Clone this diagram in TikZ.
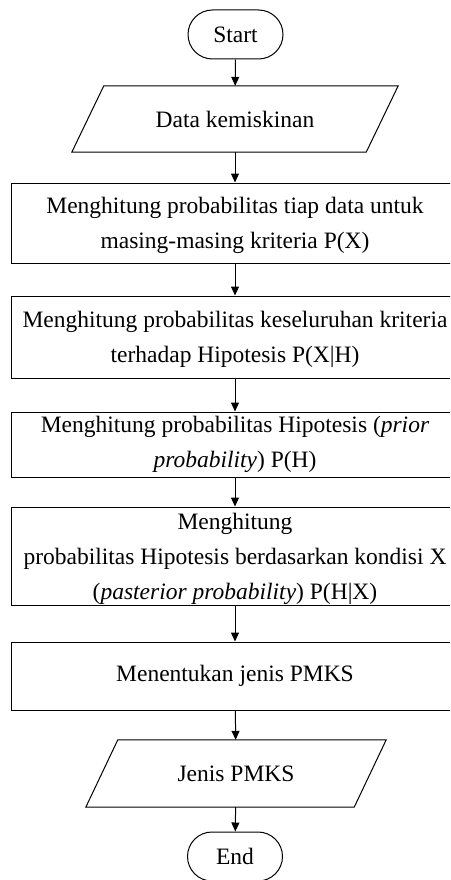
\documentclass[tikz,border=0pt]{standalone}
\usepackage{fontspec}
\setmainfont{Liberation Serif}
\usetikzlibrary{arrows.meta,shapes.misc}
\begin{document}
\begin{tikzpicture}[x=1pt,y=-1pt,
  every node/.style={font=\fontsize{23.5}{35}\selectfont},
  term/.style={draw, line width=1pt, rounded rectangle, minimum width=95pt, minimum height=49pt, inner sep=0pt},
  proc/.style={draw, line width=1pt, rectangle, minimum width=448pt, inner sep=0pt},
  txt/.style={inner sep=0pt, align=center},
  io/.style={inner sep=0pt, align=center},
  flow/.style={-{Triangle[length=9pt,width=8pt]}, line width=1pt},
  ioline/.style={line width=1pt, line join=miter}
]
\clip (0,0) rectangle (450,880);
\fill[white] (0,0) rectangle (450,880);

\node[term] (start) at (235.5,34.5) {Start};

\node[io, minimum width=294pt, minimum height=66pt] (data) at (235,119) {Data kemiskinan};
\draw[ioline] ([xshift=-16pt]data.south west) -- ([xshift=16pt]data.north west) -- ([xshift=16pt]data.north east) -- ([xshift=-16pt]data.south east) -- cycle;

\node[proc, minimum height=80pt] (p1) at (235,223) {};
\node[txt] (p1t) at (235,225) {Menghitung probabilitas tiap data untuk\\masing-masing kriteria P(X)};
\node[proc, minimum height=82pt] (p2) at (235,337) {};
\node[txt] (p2t) at (235,339) {Menghitung probabilitas keseluruhan kriteria\\terhadap Hipotesis P(X|H)};
\node[proc, minimum height=65pt] (p3) at (235,444.5) {};
\node[txt] (p3t) at (235,444.5) {Menghitung probabilitas Hipotesis (\textit{prior}\\\textit{probability}) P(H)};
\node[proc, minimum height=98pt] (p4) at (235,556) {};
\node[txt] (p4t) at (235,559) {Menghitung\\probabilitas Hipotesis berdasarkan kondisi X\\(\textit{pasterior probability}) P(H|X)};
\node[proc, minimum height=68pt] (p5) at (235,676) {};
\node[txt] (p5t) at (235,676) {Menentukan jenis PMKS};

\node[io, minimum width=268pt, minimum height=67pt] (out) at (236,773.5) {Jenis PMKS};
\draw[ioline] ([xshift=-16pt]out.south west) -- ([xshift=16pt]out.north west) -- ([xshift=16pt]out.north east) -- ([xshift=-16pt]out.south east) -- cycle;

\node[term] (end) at (235,856.5) {End};

\draw[flow] (start) -- (data);
\draw[flow] (data) -- (p1);
\draw[flow] (p1) -- (p2);
\draw[flow] (p2) -- (p3);
\draw[flow] (p3) -- (p4);
\draw[flow] (p4) -- (p5);
\draw[flow] (p5) -- (out);
\draw[flow] (out) -- (end);
\end{tikzpicture}
\end{document}
